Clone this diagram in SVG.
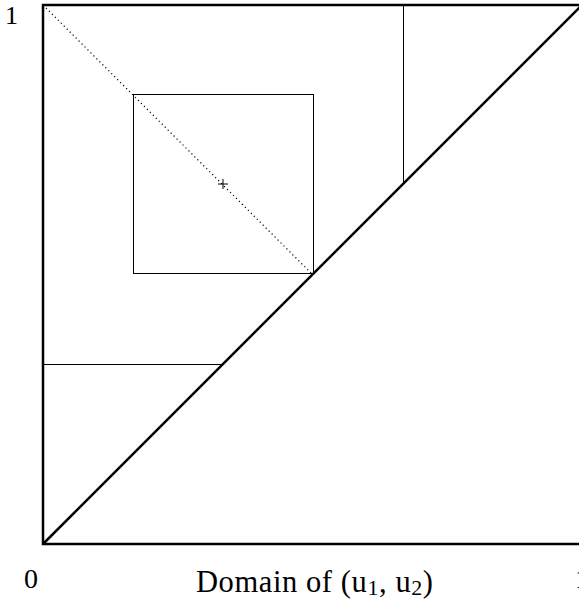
<svg xmlns="http://www.w3.org/2000/svg" width="579" height="603" viewBox="0 0 579 603">
<style>
text{font-family:"Liberation Serif","Times New Roman",serif;fill:#000}
.thick{stroke:#000;stroke-width:2.5;fill:none}
.thin{stroke:#000;stroke-width:1;fill:none}
.dot{stroke:#000;stroke-width:1.2;stroke-dasharray:1.2 3;fill:none}
</style>
<rect x="0" y="0" width="579" height="603" fill="#fff"/>
<g id="frame">
<rect class="thick" x="43" y="5" width="539" height="539"/>
</g>
<g id="connectors">
<line class="thick" x1="43" y1="544" x2="582" y2="5"/>
<line class="dot" x1="43" y1="5" x2="313" y2="275"/>
<line class="thin" x1="43" y1="364.5" x2="223" y2="364.5"/>
<line class="thin" x1="403.5" y1="5" x2="403.5" y2="184"/>
</g>
<g id="box">
<rect class="thin" x="133.5" y="94.5" width="180" height="179"/>
<path class="thin" d="M218 184H228M223 179V189"/>
</g>
<g id="labels">
<text x="5" y="24" font-size="26">1</text>
<text x="24" y="588" font-size="28">0</text>
<text x="575" y="588" font-size="28">1</text>
<text x="196" y="592" font-size="30.5" textLength="237" lengthAdjust="spacing">Domain of (u<tspan font-size="22" dy="3">1</tspan><tspan dy="-3">, u</tspan><tspan font-size="22" dy="3">2</tspan><tspan dy="-3">)</tspan></text>
</g>
</svg>
